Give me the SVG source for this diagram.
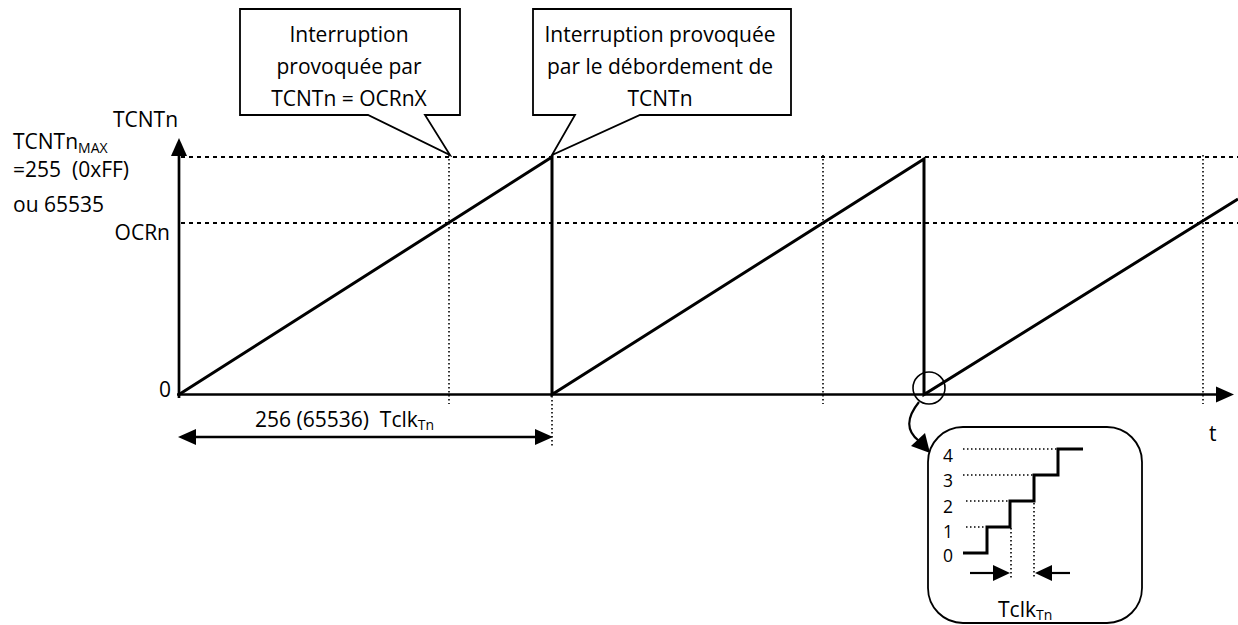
<svg xmlns="http://www.w3.org/2000/svg" width="1238" height="625" viewBox="0 0 1238 625">
  <style>
    text { font-family: "Open Sans", "Liberation Sans", sans-serif; font-size: 21px; fill: #000; white-space: pre; }
    .sub { font-size: 14px; }
    .small { font-size: 17.5px; }
    .thick { stroke: #000; stroke-width: 3; fill: none; }
    .axis { stroke: #000; stroke-width: 2.7; fill: none; }
    .dash { stroke: #000; stroke-width: 2; stroke-dasharray: 4 4; fill: none; }
    .dot { stroke: #000; stroke-width: 1.6; stroke-dasharray: 1.5 2.5; fill: none; }
    .callout { fill: #fff; stroke: #000; stroke-width: 1.8; stroke-linejoin: miter; }
    .head { fill: #000; stroke: none; }
  </style>

  <!-- reference levels and instants -->
  <g id="guides">
    <line class="dash" x1="181" y1="157" x2="1238" y2="157"/>
    <line class="dash" x1="181" y1="223" x2="1238" y2="223"/>
    <line class="dot" x1="449" y1="155" x2="449" y2="404"/>
    <line class="dot" x1="552" y1="396" x2="552" y2="446"/>
    <line class="dot" x1="823" y1="155" x2="823" y2="404"/>
    <line class="dot" x1="1203" y1="155" x2="1203" y2="404"/>
  </g>

  <!-- axes -->
  <g id="axes">
    <line class="axis" x1="179" y1="398" x2="179" y2="152"/>
    <polygon class="head" points="179,138 171,156 187,156"/>
    <line class="axis" x1="177" y1="394.5" x2="1220" y2="394.5"/>
    <polygon class="head" points="1234,394.5 1216,386.5 1216,402.5"/>
  </g>

  <!-- counter sawtooth -->
  <g id="counter">
    <polyline class="thick" points="179,394.5 552,157 552,394.5 924,159 924,394.5 1238,199"/>
  </g>

  <!-- interrupt callouts -->
  <g id="callout-compare">
    <polygon class="callout" points="240,9 460,9 460,115 425,115 450,155 368,115 240,115"/>
    <text x="349" y="42" text-anchor="middle">Interruption</text>
    <text x="349" y="74" text-anchor="middle">provoquée par</text>
    <text x="349" y="106" text-anchor="middle">TCNTn = OCRnX</text>
  </g>
  <g id="callout-overflow">
    <polygon class="callout" points="533,9 791,9 791,115 640,115 552,155 575,115 533,115"/>
    <text x="660" y="42" text-anchor="middle">Interruption provoquée</text>
    <text x="660" y="74" text-anchor="middle">par le débordement de</text>
    <text x="660" y="106" text-anchor="middle">TCNTn</text>
  </g>

  <!-- axis labels -->
  <g id="labels">
    <text x="113" y="127">TCNTn</text>
    <text x="13" y="149">TCNTn<tspan class="sub" dy="4">MAX</tspan></text>
    <text x="13" y="177">=255  (0xFF)</text>
    <text x="13" y="212">ou 65535</text>
    <text x="170" y="240" text-anchor="end">OCRn</text>
    <text x="171" y="397" text-anchor="end">0</text>
    <text x="1209" y="441" font-size="23">t</text>
  </g>

  <!-- period span -->
  <g id="period">
    <line class="axis" x1="192" y1="437" x2="540" y2="437"/>
    <polygon class="head" points="178,437 196,429 196,445"/>
    <polygon class="head" points="553,437 535,429 535,445"/>
    <text x="255" y="427">256 (65536)  Tclk<tspan class="sub" dy="3">Tn</tspan></text>
  </g>

  <!-- zoom marker and link -->
  <g id="connectors">
    <circle cx="929" cy="388" r="16" fill="none" stroke="#000" stroke-width="1.6"/>
    <path d="M919,402 C906,418 906,431 919,441" fill="none" stroke="#000" stroke-width="2.2"/>
    <polygon class="head" points="930,453 911,446 925,433"/>
  </g>

  <!-- detail of the counting steps -->
  <g id="detail">
    <rect x="928" y="427" width="214" height="196" rx="35" ry="35" fill="#fff" stroke="#000" stroke-width="1.8"/>
    <line class="dot" x1="963" y1="449" x2="1058" y2="449"/>
    <line class="dot" x1="963" y1="475" x2="1034" y2="475"/>
    <line class="dot" x1="966" y1="501" x2="1010" y2="501"/>
    <line class="dot" x1="966" y1="527" x2="987" y2="527"/>
    <line class="dot" x1="1011" y1="528" x2="1011" y2="578"/>
    <line class="dot" x1="1034" y1="503" x2="1034" y2="578"/>
    <polyline class="thick" points="963,553 987,553 987,527 1010,527 1010,501 1034,501 1034,475 1058,475 1058,449 1083,449"/>
    <text class="small" x="943" y="462">4</text>
    <text class="small" x="943" y="487">3</text>
    <text class="small" x="943" y="513">2</text>
    <text class="small" x="943" y="538">1</text>
    <text class="small" x="943" y="562">0</text>
    <line stroke="#000" stroke-width="2.2" x1="970" y1="573" x2="996" y2="573"/>
    <polygon class="head" points="1010,573 993,565 993,581"/>
    <line stroke="#000" stroke-width="2.2" x1="1048" y1="573" x2="1070" y2="573"/>
    <polygon class="head" points="1035,573 1052,565 1052,581"/>
    <text x="998" y="617">Tclk<tspan class="sub" dy="3">Tn</tspan></text>
  </g>
</svg>
